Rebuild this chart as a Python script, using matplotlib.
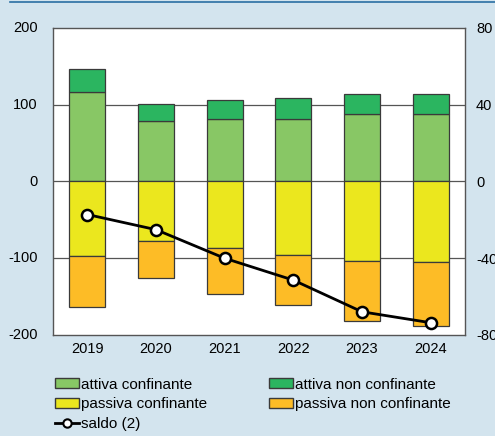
import matplotlib
matplotlib.use("Agg")
import matplotlib.pyplot as plt
from matplotlib.lines import Line2D
from matplotlib.patches import Patch
import numpy as np

years = ["2019", "2020", "2021", "2022", "2023", "2024"]
attiva_conf = [117, 79, 81, 81, 88, 88]
attiva_non_conf = [29, 22, 25, 28, 26, 26]
passiva_conf = [-97, -77, -86, -96, -104, -105]
passiva_non_conf = [-66, -49, -60, -65, -78, -83]
saldo = [-17.2, -25.1, -40.0, -51.4, -67.9, -73.6]

left_ticks = [200, 100, 0, -100, -200]
right_ticks = [80, 40, 0, -40, -80]

bg = "#d3e4ee"
c_ac = "#88c765"
c_anc = "#2bb560"
c_pc = "#ebe71e"
c_pnc = "#fdbc26"
edge = "#3a3a3a"

plt.rcParams["font.family"] = ["Liberation Sans", "DejaVu Sans"]
fig = plt.figure(figsize=(4.95, 4.36), dpi=100, facecolor=bg)
ax = fig.add_axes([53/495, 1-335/436, 412/495, 307/436])
ax.set_facecolor("white")
x = np.arange(len(years))
w = 0.52
ax.set_axisbelow(True)
ax.grid(axis="y", color="#555555", linewidth=0.9)
ax.set_ylim(-200, 200)
ax.set_xlim(-0.5, 5.5)
ax.set_yticks([100, 0, -100])
ax.set_yticklabels([])
ax.tick_params(axis="both", length=0)
ax.set_xticks(x)
ax.set_xticklabels(years, fontsize=10.5)
ax.tick_params(axis="x", pad=5)
for s in ax.spines.values():
    s.set_color("#555555")
    s.set_linewidth(1.0)

kw = dict(width=w, edgecolor=edge, linewidth=0.9, zorder=2)
ax.bar(x, attiva_conf, color=c_ac, **kw)
ax.bar(x, attiva_non_conf, bottom=attiva_conf, color=c_anc, **kw)
ax.bar(x, passiva_conf, color=c_pc, **kw)
ax.bar(x, passiva_non_conf, bottom=passiva_conf, color=c_pnc, **kw)

for v in left_ticks:
    ax.annotate(str(v), xy=(0, v), xycoords=ax.get_yaxis_transform(),
                xytext=(-11, 0), textcoords="offset points",
                ha="right", va="center", fontsize=10.5)

ax2 = ax.twinx()
ax2.set_ylim(-80, 80)
ax2.set_yticks(right_ticks)
ax2.set_yticklabels([str(v) for v in right_ticks], fontsize=10.5)
ax2.tick_params(axis="y", length=0, pad=8)
for s in ax2.spines.values():
    s.set_visible(False)
ax2.plot(x, saldo, color="black", linewidth=2, marker="o", markersize=8,
         markerfacecolor="white", markeredgecolor="black", markeredgewidth=1.8,
         zorder=5)

fig.add_artist(Line2D([10/495, 1], [1-2/436, 1-2/436], color="#2a6fa3",
                      linewidth=1.2, transform=fig.transFigure))

handles = [Patch(facecolor=c_ac, edgecolor=edge), Patch(facecolor=c_pc, edgecolor=edge),
           Line2D([0], [0], color="black", linewidth=2, marker="o", markersize=6,
                  markerfacecolor="white", markeredgewidth=1.5),
           Patch(facecolor=c_anc, edgecolor=edge), Patch(facecolor=c_pnc, edgecolor=edge)]
labels = ["attiva confinante", "passiva confinante", "saldo (2)",
          "attiva non confinante", "passiva non confinante"]
leg = fig.legend(handles, labels, ncol=2, loc="upper left",
                 bbox_to_anchor=(47/495, 1-370/436), frameon=False, fontsize=11,
                 handlelength=1.6, handleheight=0.65, handletextpad=0.1,
                 columnspacing=4.05, labelspacing=0.38, borderpad=0)

fig.savefig("out.png", dpi=100, facecolor=bg)
